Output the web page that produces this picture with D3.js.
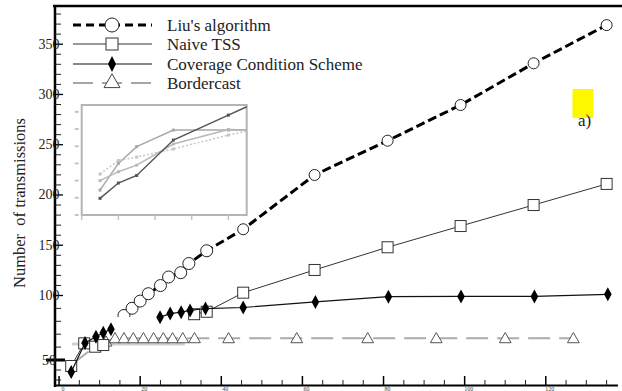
<!DOCTYPE html>
<html><head><meta charset="utf-8">
<script src="https://cdn.jsdelivr.net/npm/d3@7"></script>
<style>
html,body{margin:0;padding:0;background:#fff;overflow:hidden}
</style></head>
<body><svg id="c" width="622" height="391" font-family="'Liberation Serif', 'Times New Roman', 'DejaVu Serif', serif"></svg>
<script>
// ---------- data ----------
const seriesNames = ["Liu's algorithm", "Naive TSS", "Coverage Condition Scheme", "Bordercast"];
const liuX = [16, 18, 20, 22, 25, 27, 30, 32, 36.4, 45.4, 63, 81, 99, 117, 135];
const liuY = [84.5, 90.1, 95.7, 101.8, 109.9, 118.4, 122.7, 131.8, 144.5, 165.9, 219.9, 254, 289.5, 331, 369];
const naiveX = [3, 6.2, 8.9, 10.9, null, 33.3, 36.4, 45.4, 63, 81, 99, 117, 135];
const naiveY = [44, 62.9, 60.3, 61.6, null, 85.5, 87.4, 102.8, 125.4, 148, 169.1, 190, 211];
const coverX = [3, 6.4, 9.1, 10.9, 12.8, null, 24.9, 27.4, 30.1, 32.3, 36.1, 45.4, 63.2, 81.2, 99.1, 117.2, 135.3];
const coverY = [38, 63.2, 68.1, 71.2, 73.8, null, 83.2, 86.0, 87.1, 88.4, 89.9, 90.7, 95.0, 99.1, 99.3, 99.3, 101.2];
const borderX = [3, 9.3, 11.6, 13.8, 16, 18.3, 20.8, 23.3, 25.7, 28, 30.5, 33.4, 41.8, 58.6, 76.1, 93, 110, 126.8];
const borderY = [45, 61.6, 64.2, 66.8, 66.8, 66.8, 66.8, 66.8, 66.8, 66.8, 66.8, 66.8, 66.8, 66.8, 66.8, 66.8, 66.8, 66.8];
const traceX = [3.2, 31];
const traceY = [62.4, 62.4];
const yMajor = [50, 100, 150, 200, 250, 300, 350];
const yMajorLabels = ["50", "100", "150", "200", "250", "300", "350"];
const xMajor = [0, 20, 40, 60, 80, 100, 120];
const xMajorLabels = ["0", "20", "40", "60", "80", "100", "120"];
// inset chart
const insetX = [0.5, 1, 1.5, 2.5, 4, 4.5];
const insetDark = [0.97, 1.86, 2.3, 4.36, 5.81, 6.3];
const insetTop = [1.45, 3.0, 3.98, 4.94, 4.94, 4.94];
const insetLight = [2.38, 3.17, 3.37, 3.84, 4.65, 4.88];
const insetMid = [2.0, 2.52, 2.9, 4.13, 4.98, 4.94];
const insetXTicks = [0, 1, 2, 3, 4];
const insetYTicks = [0, 1, 2, 3, 4, 5, 6];

const FONT = "'Liberation Serif', 'Times New Roman', 'DejaVu Serif', serif";

// ---------- scales ----------
const svg = d3.select("#c");
const x = d3.scaleLinear().domain([-1, 138.3]).range([55, 620]);
const y = d3.scaleLinear().domain([25, 50, 100, 388]).range([385, 360, 295.5, 6]);
const zip = (a, b) => a.map((v, i) => (v == null ? null : [v, b[i]]));
const lineGen = d3.line().defined(d => d != null).x(d => x(d[0])).y(d => y(d[1]));

// ---------- inset ----------
const ix = d3.scaleLinear().domain([0, 4.5]).range([81.7, 246.7]);
const iy = d3.scaleLinear().domain([0, 6.4]).range([215, 105]);
const ig = svg.append("g");
ig.append("rect").attr("x", ix(0)).attr("y", iy(6.4)).attr("width", ix(4.5) - ix(0)).attr("height", iy(0) - iy(6.4))
  .attr("fill", "none").attr("stroke", "#b4b4b4").attr("stroke-width", 2);
ig.selectAll(".iyt").data(insetYTicks).join("line")
  .attr("x1", ix(0) - 7).attr("x2", ix(0) - 3).attr("y1", d => iy(d)).attr("y2", d => iy(d))
  .attr("stroke", "#c4c4c4").attr("stroke-width", 2);
ig.selectAll(".ixt").data(insetXTicks).join("line")
  .attr("x1", d => ix(d)).attr("x2", d => ix(d)).attr("y1", iy(0)).attr("y2", iy(0) + 5)
  .attr("stroke", "#c4c4c4").attr("stroke-width", 1.5);
const iline = d3.line().x(d => ix(d[0])).y(d => iy(d[1]));
[[insetTop, "#a8a8a8", null], [insetLight, "#c6c6c6", "2,2"], [insetMid, "#b8b8b8", null], [insetDark, "#555", null]]
  .forEach(([vals, col, dash]) => {
    const pts = zip(insetX, vals);
    ig.append("path").attr("d", iline(pts)).attr("fill", "none").attr("stroke", col).attr("stroke-width", 1.5)
      .attr("stroke-dasharray", dash);
    ig.selectAll(null).data(pts.slice(0, 5)).join("rect")
      .attr("x", d => ix(d[0]) - 1.5).attr("y", d => iy(d[1]) - 1.5).attr("width", 3).attr("height", 3)
      .attr("fill", col);
  });

// ---------- axes ----------
const ax = svg.append("g");
ax.append("line").attr("x1", 53).attr("x2", 622).attr("y1", y(388)).attr("y2", y(388)).attr("stroke", "#000").attr("stroke-width", 2.5);
ax.append("line").attr("x1", 55).attr("x2", 55).attr("y1", 5).attr("y2", 387).attr("stroke", "#000").attr("stroke-width", 2.5);
ax.append("line").attr("x1", 54).attr("x2", 618).attr("y1", 385.5).attr("y2", 385.5).attr("stroke", "#000").attr("stroke-width", 2);
const yMinor = d3.range(30, 390, 10).filter(v => v % 50 !== 0);
ax.selectAll(".ymi").data(yMinor).join("line")
  .attr("x1", 55).attr("x2", 61).attr("y1", d => y(d)).attr("y2", d => y(d)).attr("stroke", "#222").attr("stroke-width", 1);
ax.selectAll(".yma").data(yMajor).join("line")
  .attr("x1", d => d === 50 ? 46 : 53).attr("x2", d => d === 50 ? 65 : 63)
  .attr("y1", d => y(d)).attr("y2", d => y(d)).attr("stroke", "#000").attr("stroke-width", d => d === 50 ? 3 : 1.3);
ax.selectAll(".yl").data(yMajor).join("text")
  .attr("x", 49).attr("y", d => y(d)).attr("text-anchor", "middle").attr("dominant-baseline", "central")
  .attr("font-family", FONT).attr("font-size", 14).attr("fill", "#222").text((d, i) => yMajorLabels[i]);
const xMinor = d3.range(5, 140, 5).filter(v => v % 20 !== 0);
ax.selectAll(".xmi").data(xMinor).join("line")
  .attr("x1", d => x(d)).attr("x2", d => x(d)).attr("y1", 385).attr("y2", 380).attr("stroke", "#222").attr("stroke-width", 1);
ax.selectAll(".xma").data(xMajor).join("line")
  .attr("x1", d => x(d)).attr("x2", d => x(d)).attr("y1", 385).attr("y2", 376).attr("stroke", "#000").attr("stroke-width", 1.5);
ax.selectAll(".xl").data(xMajor).join("text")
  .attr("x", d => x(d) + 4).attr("y", 391).attr("text-anchor", "middle")
  .attr("font-family", FONT).attr("font-size", 6).attr("fill", "#444").text((d, i) => xMajorLabels[i]);
svg.append("text").attr("transform", "translate(25,203) rotate(-90)").attr("text-anchor", "middle")
  .attr("font-family", FONT).attr("font-size", 16.5).attr("fill", "#222").style("white-space", "pre").text("Number  of transmissions");

// ---------- series ----------
const sg = svg.append("g");
sg.append("path").attr("d", lineGen(zip(traceX, traceY))).attr("fill", "none").attr("stroke", "#cfcfcf").attr("stroke-width", 3);
// Bordercast
const bPts = zip(borderX, borderY);
sg.append("path").attr("d", lineGen(bPts)).attr("fill", "none").attr("stroke", "#ababab").attr("stroke-width", 2)
  .attr("stroke-dasharray", "22,9");
const tri = d3.symbol().type(d3.symbolTriangle).size(60);
sg.selectAll(".bt").data(bPts.slice(1)).join("path").attr("d", tri)
  .attr("transform", d => `translate(${x(d[0])},${y(d[1]) + 1})`).attr("fill", "#fff").attr("stroke", "#555").attr("stroke-width", 1);
// Naive TSS
const nPts = zip(naiveX, naiveY);
sg.append("path").attr("d", lineGen(nPts)).attr("fill", "none").attr("stroke", "#333").attr("stroke-width", 1);
sg.selectAll(".ns").data(nPts.filter(d => d)).join("rect")
  .attr("x", d => x(d[0]) - 5.5).attr("y", d => y(d[1]) - 5.5).attr("width", 11).attr("height", 11)
  .attr("fill", "#fff").attr("stroke", "#333").attr("stroke-width", 1);
// Coverage
const cPts = zip(coverX, coverY);
sg.append("path").attr("d", lineGen(cPts)).attr("fill", "none").attr("stroke", "#111").attr("stroke-width", 1.2);
const diamond = "M0,-7L3.8,0L0,7L-3.8,0Z";
sg.selectAll(".cd").data(cPts.filter(d => d)).join("path").attr("d", diamond)
  .attr("transform", d => `translate(${x(d[0])},${y(d[1])})`).attr("fill", "#000");
// Liu (clipped)
svg.append("clipPath").attr("id", "liuClip").append("rect").attr("x", 0).attr("y", 0).attr("width", 622).attr("height", y(83.3));
const lg = svg.append("g").attr("clip-path", "url(#liuClip)");
const lPts = zip(liuX, liuY);
lg.append("path").attr("d", lineGen(lPts)).attr("fill", "none").attr("stroke", "#000").attr("stroke-width", 3)
  .attr("stroke-dasharray", "9,4");
lg.selectAll(".lc").data(lPts).join("circle").attr("cx", d => x(d[0])).attr("cy", d => y(d[1]))
  .attr("r", (d, i) => i < 9 ? 6 : 5.5).attr("fill", "#fff").attr("stroke", "#222").attr("stroke-width", 1);

// ---------- legend ----------
const rows = [25, 44, 64, 83];
const leg = svg.append("g");
const lineStyles = [
  {stroke: "#000", w: 3, dash: "8,5"},
  {stroke: "#333", w: 1, dash: null},
  {stroke: "#111", w: 1.2, dash: null},
  {stroke: "#888", w: 1.5, dash: "20,9"}
];
seriesNames.forEach((name, i) => {
  const yy = rows[i];
  leg.append("line").attr("x1", 73).attr("x2", 152).attr("y1", yy).attr("y2", yy)
    .attr("stroke", lineStyles[i].stroke).attr("stroke-width", lineStyles[i].w).attr("stroke-dasharray", lineStyles[i].dash);
  if (i === 0) leg.append("circle").attr("cx", 112).attr("cy", yy).attr("r", 7).attr("fill", "#fff").attr("stroke", "#222");
  if (i === 1) leg.append("rect").attr("x", 106).attr("y", yy - 6).attr("width", 12).attr("height", 12).attr("fill", "#fff").attr("stroke", "#333");
  if (i === 2) leg.append("path").attr("d", "M0,-8L4,0L0,8L-4,0Z").attr("transform", `translate(112,${yy})`).attr("fill", "#000");
  if (i === 3) leg.append("path").attr("d", d3.symbol().type(d3.symbolTriangle).size(110)).attr("transform", `translate(112,${yy})`)
    .attr("fill", "#fff").attr("stroke", "#444");
  leg.append("text").attr("x", 167).attr("y", yy).attr("dominant-baseline", "central")
    .attr("font-family", FONT).attr("font-size", 17).attr("fill", "#222").text(name);
});

// ---------- panel label ----------
svg.append("rect").attr("x", 572.5).attr("y", 89).attr("width", 21).attr("height", 29).attr("fill", "#fff700");
svg.append("text").attr("x", 578).attr("y", 126).attr("font-family", FONT).attr("font-size", 17).attr("fill", "#222").text("a)");
</script></body></html>
